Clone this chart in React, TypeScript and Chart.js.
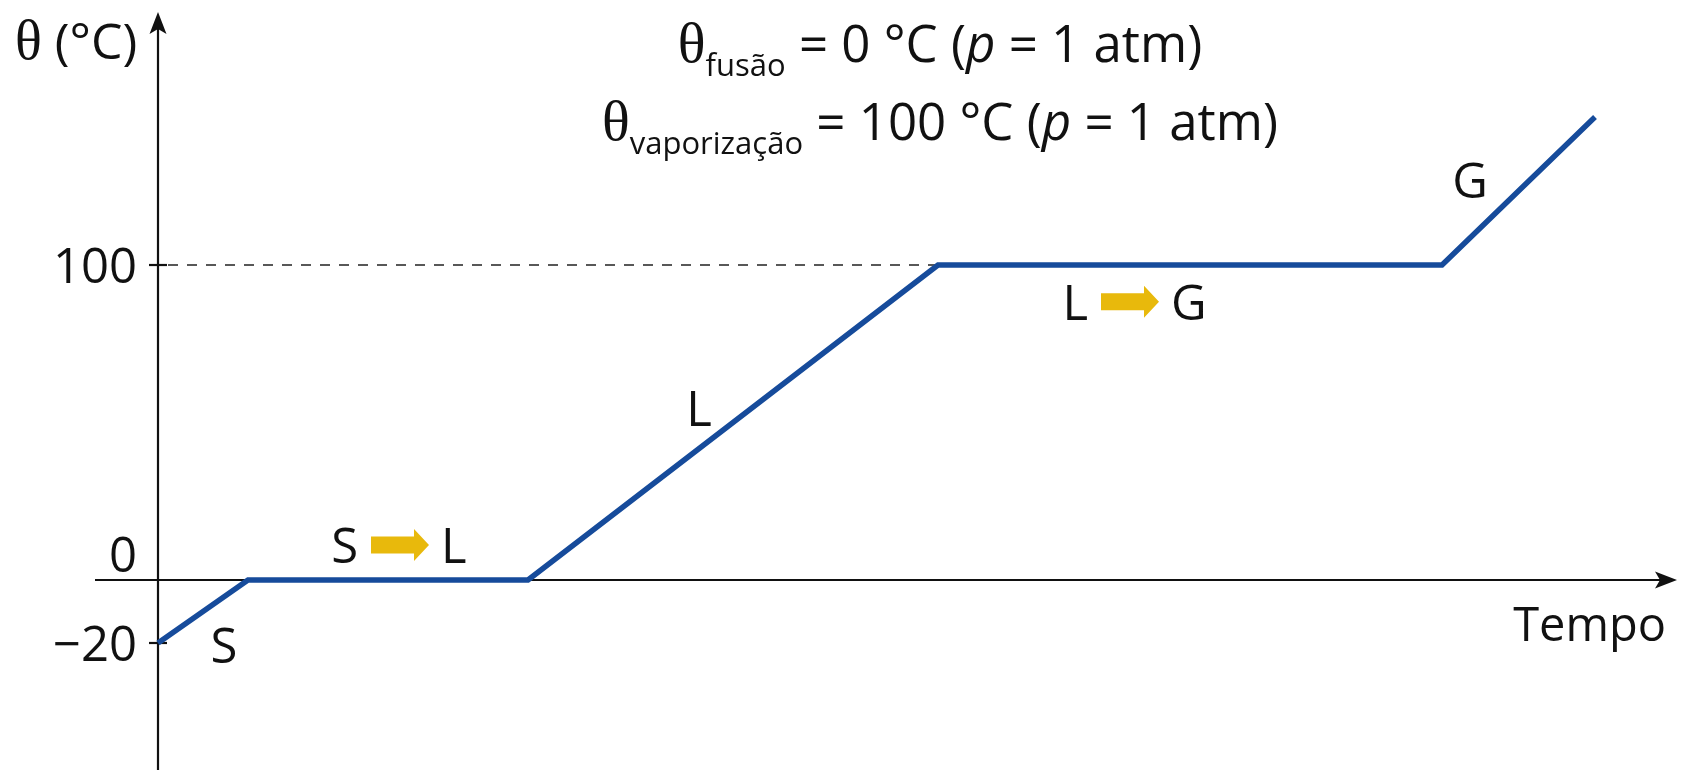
import React, { useEffect, useRef } from "react";
import { Chart, registerables } from "chart.js";

Chart.register(...registerables);

// ---- data ----
const timeValues = [0, 9, 37, 78, 128.4, 143.7];
const temperatureValues = [-20, 0, 0, 100, 100, 147];

const tickValues = [100, 0, -20];
const tickLabels = ["100", "0", "\u221220"];

const phaseLabels = ["S", "L", "G"];
const phaseLabelTimes = [6.6, 54.1, 131.2];
const phaseLabelTemps = [-20.6, 54.6, 127];

const transitionFrom = ["S", "L"];
const transitionTo = ["L", "G"];
const transitionTimes = [24.2, 97.2];
const transitionTemps = [11.1, 88.3];

const titleSubscripts = ["fus\u00e3o", "vaporiza\u00e7\u00e3o"];
const titleValues = ["0", "100"];

const yAxisTitle = "(\u00b0C)";
const xAxisTitle = "Tempo";

// ---- styles ----
const SANS = '"Open Sans", "Noto Sans", sans-serif';
const SERIF = '"Liberation Serif", "DejaVu Serif", serif';
const LINE_COLOR = "#164b9b";
const ARROW_COLOR = "#e8b90c";
const TEXT_COLOR = "#111111";

type Seg = { text: string; font: string; dy?: number };

function drawSegments(ctx: CanvasRenderingContext2D, segs: Seg[], x: number, y: number, align: "left" | "center" | "right") {
  ctx.save();
  ctx.textBaseline = "alphabetic";
  ctx.textAlign = "left";
  let total = 0;
  const widths = segs.map((s) => {
    ctx.font = s.font;
    const w = ctx.measureText(s.text).width;
    total += w;
    return w;
  });
  let cx = align === "left" ? x : align === "center" ? x - total / 2 : x - total;
  segs.forEach((s, i) => {
    ctx.font = s.font;
    ctx.fillText(s.text, cx, y + (s.dy || 0));
    cx += widths[i];
  });
  ctx.restore();
}

const decorPlugin = {
  id: "decor",
  beforeDatasetsDraw(chart: any) {
    const ctx: CanvasRenderingContext2D = chart.ctx;
    const xs = chart.scales.x;
    const ys = chart.scales.y;
    const x0 = xs.getPixelForValue(0);
    const y0 = ys.getPixelForValue(0);
    const yTop = ys.getPixelForValue(180.3);
    const xLeft = xs.getPixelForValue(-6.3);
    const xRight = xs.getPixelForValue(151.9);
    const bottom = chart.height;

    ctx.save();
    ctx.strokeStyle = "#111";
    ctx.fillStyle = "#111";
    ctx.lineWidth = 2.2;
    // y axis
    ctx.beginPath();
    ctx.moveTo(x0, bottom);
    ctx.lineTo(x0, yTop + 16);
    ctx.stroke();
    ctx.beginPath();
    ctx.moveTo(x0, yTop);
    ctx.lineTo(x0 - 8.5, yTop + 22);
    ctx.lineTo(x0, yTop + 17);
    ctx.lineTo(x0 + 8.5, yTop + 22);
    ctx.closePath();
    ctx.fill();
    // x axis
    ctx.beginPath();
    ctx.moveTo(xLeft, y0);
    ctx.lineTo(xRight - 16, y0);
    ctx.stroke();
    ctx.beginPath();
    ctx.moveTo(xRight, y0);
    ctx.lineTo(xRight - 22, y0 - 8.5);
    ctx.lineTo(xRight - 17, y0);
    ctx.lineTo(xRight - 22, y0 + 8.5);
    ctx.closePath();
    ctx.fill();
    // tick marks
    tickValues.forEach((v) => {
      if (v === 0) return;
      const py = ys.getPixelForValue(v);
      ctx.beginPath();
      ctx.moveTo(x0 - 9, py);
      ctx.lineTo(x0 + 9, py);
      ctx.stroke();
    });
    // dashed reference line at 100
    const py100 = ys.getPixelForValue(100);
    const idx = temperatureValues.indexOf(100);
    ctx.setLineDash([10, 9]);
    ctx.lineWidth = 1.6;
    ctx.strokeStyle = "#222";
    ctx.beginPath();
    ctx.moveTo(x0 + 10, py100);
    ctx.lineTo(xs.getPixelForValue(timeValues[idx]), py100);
    ctx.stroke();
    ctx.restore();
  },
  afterDatasetsDraw(chart: any) {
    const ctx: CanvasRenderingContext2D = chart.ctx;
    const xs = chart.scales.x;
    const ys = chart.scales.y;
    const x0 = xs.getPixelForValue(0);
    const y0 = ys.getPixelForValue(0);
    ctx.save();
    ctx.fillStyle = TEXT_COLOR;
    const F = `49px ${SANS}`;

    // tick labels
    tickValues.forEach((v, i) => {
      const py = v === 0 ? y0 - 8 : ys.getPixelForValue(v) + 18;
      drawSegments(ctx, [{ text: tickLabels[i], font: F }], x0 - 21, py, "right");
    });

    // axis titles
    drawSegments(
      ctx,
      [
        { text: "\u03b8", font: `56px ${SERIF}` },
        { text: " " + yAxisTitle, font: `50px ${SANS}` },
      ],
      15,
      59,
      "left"
    );
    drawSegments(ctx, [{ text: xAxisTitle, font: `47px ${SANS}` }], xs.getPixelForValue(150.8), 641, "right");

    // header lines
    const cx = xs.getPixelForValue(78.2);
    const baselines = [62, 140];
    titleSubscripts.forEach((sub, i) => {
      drawSegments(
        ctx,
        [
          { text: "\u03b8", font: `58px ${SERIF}` },
          { text: sub, font: `31px ${SANS}`, dy: 14 },
          { text: " = " + titleValues[i] + " \u00b0C (", font: `51px ${SANS}` },
          { text: "p", font: `italic 51px ${SANS}` },
          { text: " = 1 atm)", font: `51px ${SANS}` },
        ],
        cx,
        baselines[i],
        "center"
      );
    });

    // phase labels
    phaseLabels.forEach((lab, i) => {
      const px = xs.getPixelForValue(phaseLabelTimes[i]);
      const py = ys.getPixelForValue(phaseLabelTemps[i]) + 18;
      drawSegments(ctx, [{ text: lab, font: F }], px, py, "center");
    });

    // transitions with yellow arrows
    transitionFrom.forEach((from, i) => {
      const px = xs.getPixelForValue(transitionTimes[i]);
      const pyc = ys.getPixelForValue(transitionTemps[i]);
      const aw = 58;
      const ax = px - aw / 2;
      ctx.fillStyle = ARROW_COLOR;
      ctx.beginPath();
      ctx.moveTo(ax, pyc - 8.5);
      ctx.lineTo(ax + 43, pyc - 8.5);
      ctx.lineTo(ax + 43, pyc - 16);
      ctx.lineTo(ax + aw, pyc);
      ctx.lineTo(ax + 43, pyc + 16);
      ctx.lineTo(ax + 43, pyc + 8.5);
      ctx.lineTo(ax, pyc + 8.5);
      ctx.closePath();
      ctx.fill();
      ctx.fillStyle = TEXT_COLOR;
      drawSegments(ctx, [{ text: from, font: F }], ax - 13, pyc + 18, "right");
      drawSegments(ctx, [{ text: transitionTo[i], font: F }], ax + aw + 12, pyc + 18, "left");
    });
    ctx.restore();
  },
};

export default function App() {
  const ref = useRef<HTMLCanvasElement | null>(null);
  useEffect(() => {
    if (!ref.current) return;
    const chart = new Chart(ref.current, {
      type: "line",
      data: {
        datasets: [
          {
            data: timeValues.map((t, i) => ({ x: t, y: temperatureValues[i] })),
            borderColor: LINE_COLOR,
            borderWidth: 5.5,
            pointRadius: 0,
            fill: false,
            tension: 0,
          },
        ],
      },
      options: {
        animation: false,
        responsive: true,
        maintainAspectRatio: false,
        layout: { padding: 0 },
        plugins: { legend: { display: false }, tooltip: { enabled: false } },
        scales: {
          x: { type: "linear", display: false, min: -15.8, max: 152.7 },
          y: { type: "linear", display: false, min: -60.32, max: 184.13 },
        },
      },
      plugins: [decorPlugin],
    } as any);
    return () => chart.destroy();
  }, []);
  return (
    <div style={{ position: "fixed", left: 0, top: 0, width: 1685, height: 770, background: "#fff" }}>
      <canvas ref={ref} />
    </div>
  );
}
